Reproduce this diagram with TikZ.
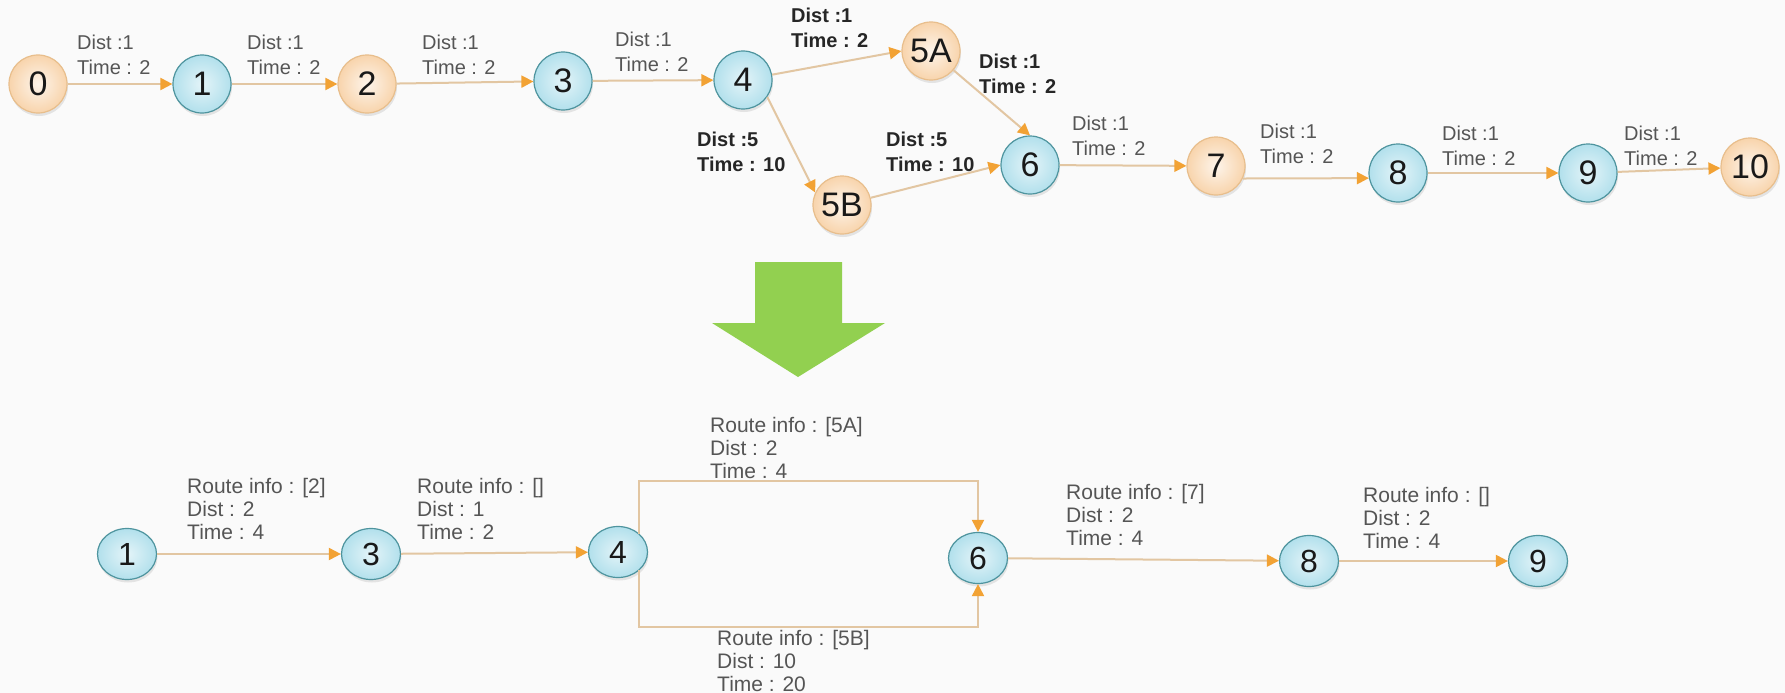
\documentclass[tikz,border=0pt]{standalone}
\usepackage{fontspec}
\setmainfont{Liberation Sans}
\usetikzlibrary{arrows.meta,shapes.geometric,shadows,positioning}
\definecolor{pagebg}{RGB}{250,250,250}
\definecolor{linktan}{RGB}{226,198,162}
\definecolor{tiporange}{RGB}{242,162,52}
\definecolor{stopblue}{RGB}{178,224,236}
\definecolor{stopblueline}{RGB}{78,148,158}
\definecolor{stoppeach}{RGB}{248,212,172}
\definecolor{stoppeachline}{RGB}{232,190,140}
\definecolor{flowgreen}{RGB}{146,208,80}
\definecolor{labelgray}{RGB}{85,85,85}

\begin{document}
\begin{tikzpicture}[
    x=1pt, y=-1pt,
    stop/.style={circle, minimum size=58pt, inner sep=0pt, line width=1.2pt, text=black!90,
        font=\fontsize{34}{34}\selectfont,
        drop shadow={shadow xshift=1pt, shadow yshift=-3pt, opacity=0.18}},
    bluestop/.style={stop, draw=stopblueline, inner color=stopblue!35, outer color=stopblue},
    peachstop/.style={stop, draw=stoppeachline, inner color=stoppeach!25, outer color=stoppeach},
    hop/.style={bluestop, ellipse, minimum width=59pt, minimum height=51pt, font=\fontsize{32}{32}\selectfont},
    link/.style={line width=2pt, draw=linktan, -{Triangle[length=12pt, width=12pt, color=tiporange]}},
    cost/.style={anchor=north west, inner sep=0pt, align=left, text=labelgray, font=\fontsize{20}{25}\selectfont},
    boldcost/.style={cost, text=black!85, font=\fontsize{20}{25}\selectfont\bfseries},
    info/.style={cost, font=\fontsize{21}{23}\selectfont}
]
    \fill[pagebg] (0,0) rectangle (1785,693);

    % Full route
    \node[peachstop] (n0) at (38,84) {0};
    \node[bluestop] (n1) at (202,84) {1};
    \node[peachstop] (n2) at (367,84) {2};
    \node[bluestop] (n3) at (563,81) {3};
    \node[bluestop] (n4) at (743,80) {4};
    \node[peachstop] (n5a) at (931,51) {5A};
    \node[peachstop] (n5b) at (842,205) {5B};
    \node[bluestop] (n6) at (1030,165) {6};
    \node[peachstop] (n7) at (1216,166) {7};
    \node[bluestop] (n8) at (1398,173) {8};
    \node[bluestop] (n9) at (1588,173) {9};
    \node[peachstop] (n10) at (1750,167) {10};

    \draw[link] (n0) -- (n1);
    \draw[link] (n1) -- (n2);
    \draw[link] (n2) -- (n3);
    \draw[link] (n3) -- (n4);
    \draw[link] (n4) -- (n5a.west);
    \draw[link] (n5a) -- (n6.north);
    \draw[link] (n4.-35) -- (n5b.155);
    \draw[link] (n5b) -- (n6.west);
    \draw[link] (n6) -- (n7);
    \draw[link] (n7.-25) -- (n8.-170);
    \draw[link] (n8) -- (n9);
    \draw[link] (n9) -- (n10);

    \node[cost] (c01) at (77,35) {Dist :1\\Time : 2};
    \node[cost] (c12) at (247,35) {Dist :1\\Time : 2};
    \node[cost] (c23) at (422,35) {Dist :1\\Time : 2};
    \node[cost] (c34) at (615,32) {Dist :1\\Time : 2};
    \node[boldcost] (c45a) at (791,8) {Dist :1\\Time : 2};
    \node[boldcost] (c5a6) at (979,54) {Dist :1\\Time : 2};
    \node[boldcost] (c45b) at (697,132) {Dist :5\\Time : 10};
    \node[boldcost] (c5b6) at (886,132) {Dist :5\\Time : 10};
    \node[cost] (c67) at (1072,116) {Dist :1\\Time : 2};
    \node[cost] (c78) at (1260,124) {Dist :1\\Time : 2};
    \node[cost] (c89) at (1442,126) {Dist :1\\Time : 2};
    \node[cost] (c910) at (1624,126) {Dist :1\\Time : 2};

    % Big arrow
    \fill[flowgreen] (755,262) -- (842,262) -- (842,323) -- (885,323) -- (798,377)
        -- (712,323) -- (755,323) -- cycle;

    % Reduced route
    \node[hop] (b1) at (127,554) {1};
    \node[hop] (b3) at (371,554) {3};
    \node[hop] (b4) at (618,552) {4};
    \node[hop] (b6) at (978,558) {6};
    \node[hop] (b8) at (1309,561) {8};
    \node[hop] (b9) at (1538,561) {9};

    \draw[link] (b1) -- (b3);
    \draw[link] (b3) -- (b4);
    \draw[link] (b4.north east) |- ([yshift=51pt]b6.north) -- (b6.north);
    \draw[link] (b4.south east) |- ([yshift=-43pt]b6.south) -- (b6.south);
    \draw[link] (b6) -- (b8);
    \draw[link] (b8) -- (b9);

    \node[info] (r13) at (187,478) {Route info : [2]\\Dist : 2\\Time : 4};
    \node[info] (r34) at (417,478) {Route info : []\\Dist : 1\\Time : 2};
    \node[info] (r46a) at (710,417) {Route info : [5A]\\Dist : 2\\Time : 4};
    \node[info] (r46b) at (717,630) {Route info : [5B]\\Dist : 10\\Time : 20};
    \node[info] (r68) at (1066,484) {Route info : [7]\\Dist : 2\\Time : 4};
    \node[info] (r89) at (1363,487) {Route info : []\\Dist : 2\\Time : 4};
\end{tikzpicture}
\end{document}
